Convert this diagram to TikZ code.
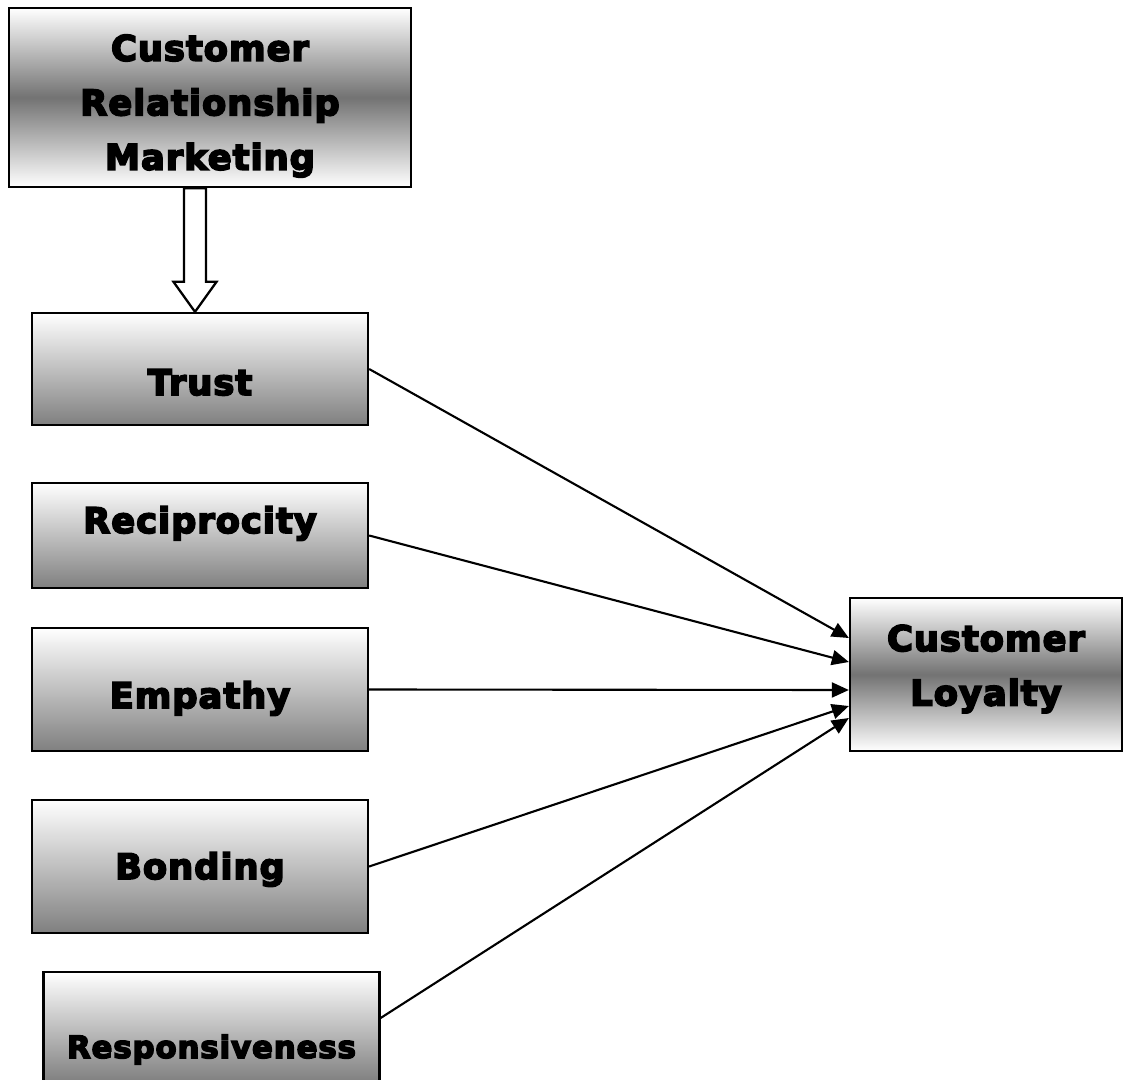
\documentclass[tikz,border=0pt]{standalone}
\usepackage{fontspec}
\newfontfamily\heavyfont{DejaVu Sans Bold}[FakeBold=5, LetterSpace=3]
\usetikzlibrary{arrows.meta,calc}

\tikzset{
	factor/.style={draw, line width=1.3pt, top color=white, bottom color=black!50,
		minimum width=6.72cm, inner sep=0pt},
	central/.style={draw, line width=1.3pt, top color=white, bottom color=white,
		middle color=black!55, inner sep=0pt},
	lbl/.style={font=\fontsize{20}{31}\selectfont\heavyfont, inner sep=0pt, align=center},
	link/.style={line width=1.2pt, -{Triangle[length=0.34cm, width=0.3cm]}},
	hollow/.style={draw, line width=1.3pt, fill=white, line join=miter}
}

\begin{document}
\begin{tikzpicture}
	
	\useasboundingbox (0,0) rectangle (22.46,-21.6);
	
	% boxes
	\node[central, minimum width=8.04cm, minimum height=3.58cm] (crm) at (4.2,-1.95) {};
	\node[factor, minimum height=2.24cm] (trust) at (4.0,-7.38) {};
	\node[factor, minimum height=2.10cm] (recip) at (4.0,-10.71) {};
	\node[factor, minimum height=2.46cm] (empathy) at (4.0,-13.79) {};
	\node[factor, minimum height=2.66cm] (bonding) at (4.0,-17.33) {};
	\node[factor, minimum height=2.2cm] (resp) at (4.23,-20.54) {};
	\node[central, minimum width=5.44cm, minimum height=3.06cm] (loyal) at (19.72,-13.49) {};
	
	% texts
	\node[lbl] (crm-t) at ($(crm.center)+(0,-0.17)$) {Customer\\Relationship\\Marketing};
	\node[lbl, anchor=base] (trust-t) at ($(trust.center)+(0,-0.52)$) {Trust};
	\node[lbl, anchor=base] (recip-t) at ($(recip.center)+(0,0.05)$) {Reciprocity};
	\node[lbl, anchor=base] (empathy-t) at ($(empathy.center)+(0,-0.37)$) {Empathy};
	\node[lbl, anchor=base] (bonding-t) at ($(bonding.center)+(0,-0.25)$) {Bonding};
	\node[lbl, anchor=base, font=\fontsize{17.5}{22}\selectfont\heavyfont] (resp-t)
		at ($(resp.center)+(0,-0.62)$) {Responsiveness};
	\node[lbl] (loyal-t) at ($(loyal.center)+(0,0.11)$) {Customer\\Loyalty};
	
	% block arrow down to trust
	\coordinate (tip) at ($(trust.north)+(-0.1,0)$);
	\draw[hollow] (tip) -- ++(-0.43,0.6) -- ++(0.21,0)
		-- ($(tip |- crm.south)+(-0.22,0)$) -- ($(tip |- crm.south)+(0.22,0)$)
		-- ($(tip)+(0.22,0.6)$) -- ++(0.21,0) -- cycle;
	
	% links to loyalty
	\draw[link] (trust.east) -- ($(loyal.west)+(0,0.73)$);
	\draw[link] (recip.east) -- ($(loyal.west)+(0,0.25)$);
	\draw[link] (empathy.east) -- ($(loyal.west)+(0,-0.31)$);
	\draw[link] (bonding.east) -- ($(loyal.west)+(0,-0.63)$);
	\draw[link] ($(resp.east)+(0,0.18)$) -- ($(loyal.west)+(0,-0.87)$);
	
\end{tikzpicture}
\end{document}
